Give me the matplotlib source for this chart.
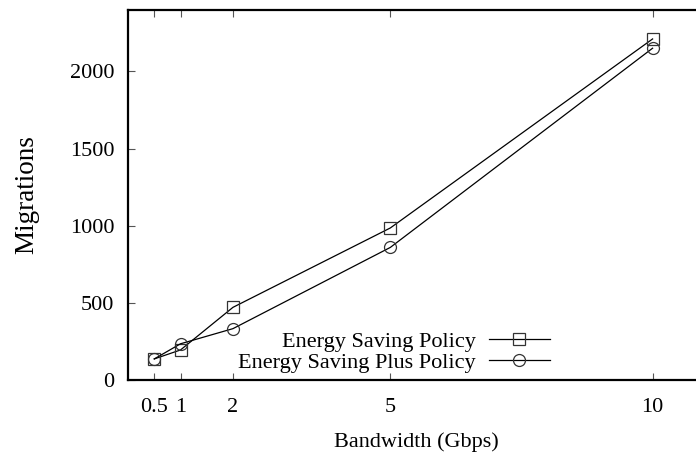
import matplotlib.pyplot as plt

plt.rcParams["font.family"] = ["Liberation Serif", "DejaVu Serif"]

bandwidth = [0.5, 1, 2, 5, 10]
energy_saving = [138, 196, 472, 986, 2210]
energy_saving_plus = [138, 236, 334, 860, 2150]
xticks = [0.5, 1, 2, 5, 10]
xtick_labels = ["0.5", "1", "2", "5", "10"]
yticks = [0, 500, 1000, 1500, 2000]

fig = plt.figure(figsize=(6.96, 4.57), dpi=100)
ax = fig.add_axes([0.184, 0.168, 0.829, 0.811])

style = dict(color="black", linewidth=0.9, markersize=8.6,
             markerfacecolor="none", markeredgecolor="#333333",
             markeredgewidth=0.9)
ax.plot(bandwidth, energy_saving, marker="s", label="Energy Saving Policy", **style)
ax.plot(bandwidth, energy_saving_plus, marker="o",
        label="Energy Saving Plus Policy", **style)

ax.set_xlim(0, 11)
ax.set_ylim(0, 2400)
ax.set_xticks(xticks)
ax.set_xticklabels(xtick_labels)
ax.set_yticks(yticks)
ax.tick_params(direction="in", length=5, width=0.8, color="#555555",
               top=True, right=True, labelsize=16)
ax.tick_params(axis="x", pad=13)
ax.tick_params(axis="y", pad=10)
for s in ax.spines.values():
    s.set_linewidth(1.6)

ax.set_xlabel("Bandwidth (Gbps)", fontsize=16, labelpad=11)
ax.set_ylabel("Migrations", fontsize=19.5, labelpad=22)

leg = ax.legend(loc="lower right", bbox_to_anchor=(0.731, 0.02), frameon=False,
                fontsize=16, markerfirst=False, handlelength=2.75,
                handletextpad=0.6, labelspacing=0.0, borderpad=0,
                borderaxespad=0)
for t in leg.get_texts():
    t.set_ha("right")
leg._legend_box.align = "right"

fig.savefig("out.png", dpi=100)
